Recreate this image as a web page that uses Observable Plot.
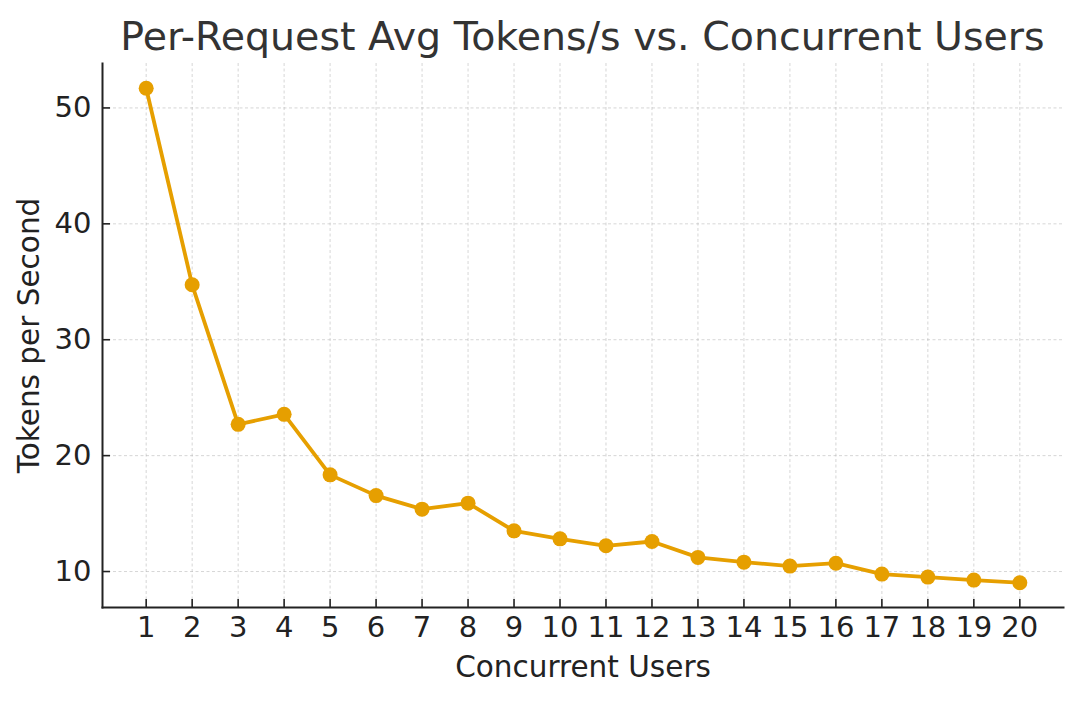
<!DOCTYPE html>
<html>
<head>
<meta charset="utf-8">
<script src="https://cdn.jsdelivr.net/npm/d3@7"></script>
<script src="https://cdn.jsdelivr.net/npm/@observablehq/plot@0.6"></script>
<style>
  html, body { margin: 0; padding: 0; background: #fff; }
  #title { width: 1080px; height: 60px; box-sizing: border-box; padding-left: 85px;
    font-family: "DejaVu Sans", sans-serif; font-size: 39.5px; color: #333;
    text-align: center; line-height: 72px; white-space: nowrap; }
  svg { display: block; }
</style>
</head>
<body>
<div id="title">Per-Request Avg Tokens/s vs. Concurrent Users</div>
<div id="chart"></div>
<script>
const users = [1,2,3,4,5,6,7,8,9,10,11,12,13,14,15,16,17,18,19,20];
const tokensPerSecond = [51.7,34.74,22.7,23.56,18.34,16.55,15.38,15.9,13.51,12.82,12.22,12.59,11.22,10.81,10.47,10.72,9.78,9.52,9.26,9.03];
const xTicks = users;
const yTicks = [10,20,30,40,50];

const data = users.map((u, i) => ({users: u, tps: tokensPerSecond[i]}));
const xPad = (d3.max(users) - d3.min(users)) * 0.05;
const yPad = (d3.max(tokensPerSecond) - d3.min(tokensPerSecond)) * 0.05;

const color = "#E69F00";
const font = "DejaVu Sans, sans-serif";

const chart = Plot.plot({
  width: 1080,
  height: 641,
  marginTop: 3,
  marginBottom: 94,
  marginLeft: 102,
  marginRight: 17,
  style: {fontFamily: font, fontSize: "29px", color: "#222", background: "#fff"},
  x: {domain: [d3.min(users) - xPad, d3.max(users) + xPad], label: null},
  y: {domain: [d3.min(tokensPerSecond) - yPad, d3.max(tokensPerSecond) + yPad], label: null},
  marks: [
    Plot.gridX(xTicks, {stroke: "#b0b0b0", strokeOpacity: 0.65, strokeWidth: 0.8, strokeDasharray: "3,2.5"}),
    Plot.gridY(yTicks, {stroke: "#b0b0b0", strokeOpacity: 0.65, strokeWidth: 0.8, strokeDasharray: "3,2.5"}),
    Plot.axisX(xTicks, {tickSize: -8, tickFormat: () => "", stroke: "#222", strokeWidth: 1.6}),
    Plot.axisX(xTicks, {tickSize: 0, tickPadding: 9, fill: "#222", fontSize: 29, label: null}),
    Plot.axisY(yTicks, {tickSize: -8, tickFormat: () => "", stroke: "#222", strokeWidth: 1.6}),
    Plot.axisY(yTicks, {tickSize: 0, tickPadding: 11, fill: "#222", fontSize: 29, label: null}),
    Plot.frame({anchor: "left", stroke: "#222", strokeWidth: 2}),
    Plot.frame({anchor: "bottom", stroke: "#222", strokeWidth: 2}),
    Plot.line(data, {x: "users", y: "tps", stroke: color, strokeWidth: 3.8}),
    Plot.dot(data, {x: "users", y: "tps", fill: color, r: 7.5}),
    Plot.text(["Concurrent Users"], {frameAnchor: "bottom", textAnchor: "middle", lineAnchor: "middle", dy: 60, text: d => d, fill: "#222", fontSize: 29.5}),
    Plot.text(["Tokens per Second"], {frameAnchor: "left", textAnchor: "middle", lineAnchor: "middle", dx: -73, rotate: -90, text: d => d, fill: "#222", fontSize: 29.5})
  ]
});
document.getElementById("chart").appendChild(chart);
</script>
</body>
</html>
